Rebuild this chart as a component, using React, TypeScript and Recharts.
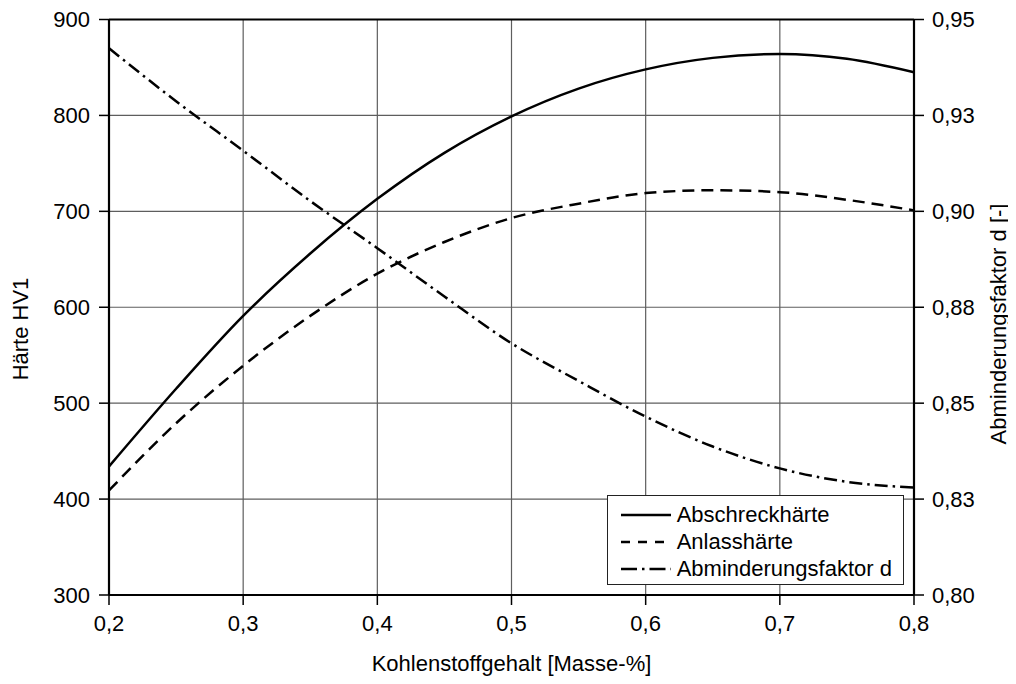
import {
  CartesianGrid,
  Legend,
  Line,
  LineChart,
  ReferenceLine,
  XAxis,
  YAxis
} from 'recharts'

// Kohlenstoffgehalt [Masse-%]
const carbon = [0.2, 0.25, 0.3, 0.35, 0.4, 0.45, 0.5, 0.55, 0.6, 0.65, 0.7, 0.75, 0.8]
// Härte HV1
const quenchHardness = [434, 515, 591, 656, 713, 761, 799, 828, 848, 860, 864, 859, 845]
const temperHardness = [409, 479, 539, 591, 635, 668, 693, 708, 719, 722, 720, 712, 701]
// Abminderungsfaktor d [-]
const reductionFactor = [
  0.9425, 0.9287, 0.9158, 0.9027, 0.8904, 0.8778, 0.8656, 0.8558, 0.8465, 0.8387,
  0.833, 0.8295, 0.828
]

const xTicks = [0.2, 0.3, 0.4, 0.5, 0.6, 0.7, 0.8]
const xTickLabels = ['0,2', '0,3', '0,4', '0,5', '0,6', '0,7', '0,8']
const leftTicks = [300, 400, 500, 600, 700, 800, 900]
const rightTicks = [0.8, 0.825, 0.85, 0.875, 0.9, 0.925, 0.95]
const rightTickLabels = ['0,80', '0,83', '0,85', '0,88', '0,90', '0,93', '0,95']

const data = carbon.map((c, i) => ({
  c,
  quench: quenchHardness[i],
  temper: temperHardness[i],
  factor: reductionFactor[i]
}))

const series = [
  { key: 'quench', name: 'Abschreckhärte', axis: 'left', dash: undefined, legendDash: undefined },
  { key: 'temper', name: 'Anlasshärte', axis: 'left', dash: '12 7', legendDash: '9 8' },
  { key: 'factor', name: 'Abminderungsfaktor d', axis: 'right', dash: '13 5 2.5 5', legendDash: '16 5 2.5 5' }
]

const font = '"Liberation Sans", Arial, sans-serif'
const tickStyle = { fill: '#000', fontSize: 22, fontFamily: font }

const LegendBox = () => (
  <div
    style={{
      width: 297,
      height: 90,
      border: '1.3px solid #222',
      background: '#fff',
      boxSizing: 'border-box',
      padding: '6px 0 0 12px',
      fontFamily: font,
      color: '#000'
    }}
  >
    {series.map((s) => (
      <div key={s.key} style={{ display: 'flex', alignItems: 'center', height: 26.7 }}>
        <svg width={52} height={6}>
          <line x1={1} x2={51} y1={3} y2={3} stroke="#000" strokeWidth={2.4} strokeDasharray={s.legendDash} />
        </svg>
        <span style={{ marginLeft: 5, fontSize: 22, lineHeight: '26px' }}>{s.name}</span>
      </div>
    ))}
  </div>
)

export default function App() {
  return (
    <div style={{ width: 1008, height: 670, fontFamily: font }}>
      <LineChart width={1008} height={670} data={data} margin={{ top: 11.5, right: 0, bottom: 3, left: 0 }}>
        <CartesianGrid yAxisId="left" stroke="#5e5e5e" strokeWidth={1.2} />
        <XAxis
          dataKey="c"
          type="number"
          domain={[0.2, 0.8]}
          ticks={xTicks}
          interval={0}
          height={80}
          tick={tickStyle}
          tickSize={10}
          tickMargin={10}
          tickLine={{ stroke: '#000', strokeWidth: 1.5 }}
          axisLine={{ stroke: '#000', strokeWidth: 2.2 }}
          tickFormatter={(v) => xTickLabels[xTicks.indexOf(v)] ?? String(v)}
        />
        <YAxis
          yAxisId="left"
          domain={[300, 900]}
          ticks={leftTicks}
          interval={0}
          width={101}
          tick={tickStyle}
          tickSize={10}
          tickMargin={9}
          tickLine={{ stroke: '#000', strokeWidth: 1.5 }}
          axisLine={{ stroke: '#000', strokeWidth: 2.2 }}
        />
        <YAxis
          yAxisId="right"
          orientation="right"
          domain={[0.8, 0.95]}
          ticks={rightTicks}
          interval={0}
          width={102}
          tick={tickStyle}
          tickSize={10}
          tickMargin={8}
          tickLine={{ stroke: '#000', strokeWidth: 1.5 }}
          axisLine={{ stroke: '#000', strokeWidth: 2.2 }}
          tickFormatter={(v) => rightTickLabels[rightTicks.indexOf(v)] ?? String(v)}
        />
        <ReferenceLine yAxisId="left" y={900} stroke="#000" strokeWidth={2.2} />
        {series.map((s) => (
          <Line
            key={s.key}
            yAxisId={s.axis}
            dataKey={s.key}
            name={s.name}
            type="monotone"
            stroke="#000"
            strokeWidth={2.5}
            strokeDasharray={s.dash}
            dot={false}
            activeDot={false}
            isAnimationActive={false}
          />
        ))}
        <Legend
          layout="vertical"
          align="center"
          verticalAlign="middle"
          content={() => <LegendBox />}
          wrapperStyle={{ left: 598.7, top: 487, width: 297, height: 90 }}
        />
        <text
          x={12.5}
          y={321}
          transform="rotate(-90 12.5 321)"
          textAnchor="middle"
          dominantBaseline="central"
          fontSize={22}
          fontFamily={font}
          fill="#000"
        >
          Härte HV1
        </text>
        <text
          x={990}
          y={316}
          transform="rotate(-90 990 316)"
          textAnchor="middle"
          dominantBaseline="central"
          fontSize={22}
          fontFamily={font}
          fill="#000"
        >
          Abminderungsfaktor d [-]
        </text>
        <text
          x={503.5}
          y={655}
          textAnchor="middle"
          dominantBaseline="central"
          fontSize={22}
          fontFamily={font}
          fill="#000"
        >
          Kohlenstoffgehalt [Masse-%]
        </text>
      </LineChart>
    </div>
  )
}
